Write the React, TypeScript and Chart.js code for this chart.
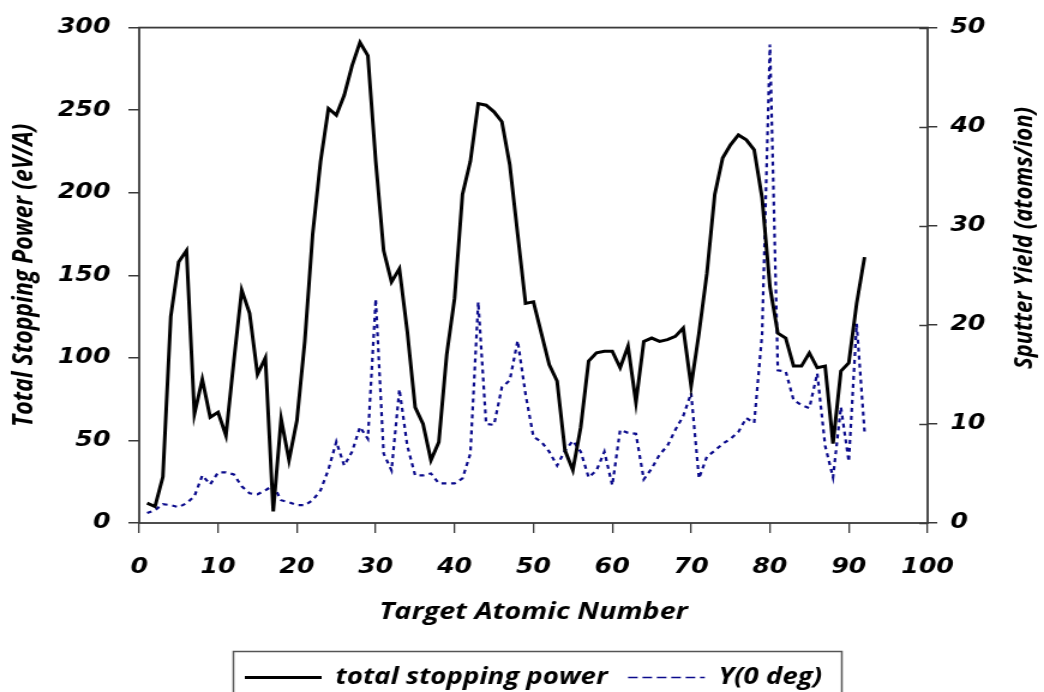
import React, { useEffect, useRef } from "react";
import { Chart, registerables } from "chart.js";

Chart.register(...registerables);

// Target atomic numbers (x)
const atomicNumbers = [
  1, 2, 3, 4, 5, 6, 7, 8, 9, 10, 11, 12, 13, 14, 15, 16, 17, 18, 19, 20,
  21, 22, 23, 24, 25, 26, 27, 28, 29, 30, 31, 32, 33, 34, 35, 36, 37, 38, 39, 40,
  41, 42, 43, 44, 45, 46, 47, 48, 49, 50, 51, 52, 53, 54, 55, 56, 57, 58, 59, 60,
  61, 62, 63, 64, 65, 66, 67, 68, 69, 70, 71, 72, 73, 74, 75, 76, 77, 78, 79, 80,
  81, 82, 83, 84, 85, 86, 87, 88, 89, 90, 91, 92,
];

// Total stopping power (eV/A), left axis
const stoppingPower = [
  12, 10, 28, 125, 158, 165, 66, 87, 64, 67, 53, 98, 141, 127, 90, 100, 7, 63, 38, 62,
  110, 175, 219, 251, 247, 259, 277, 291, 283, 219, 165, 146, 154, 116, 70, 60, 38, 49, 102, 136,
  199, 219, 254, 253, 249, 243, 217, 175, 133, 134, 115, 96, 86, 44, 32, 58, 98, 103, 104, 104,
  94, 107, 73, 110, 112, 110, 111, 113, 118, 83, 115, 151, 199, 221, 229, 235, 232, 226, 197, 143,
  115, 112, 95, 95, 103, 94, 95, 48, 92, 97, 133, 161,
];

// Sputter yield Y(0 deg) (atoms/ion), right axis
const sputterYield = [
  1.0, 1.3, 1.9, 1.8, 1.6, 2.0, 2.7, 4.8, 3.9, 5.1, 5.1, 4.9, 3.7, 3.0, 2.9, 3.3, 3.8, 2.3, 2.1, 1.8,
  1.8, 2.3, 3.3, 5.4, 8.2, 5.8, 7.2, 9.7, 8.5, 22.6, 7.0, 5.3, 13.5, 7.8, 4.8, 4.8, 5.0, 4.0, 4.0, 4.0,
  4.5, 7.0, 22.3, 10.0, 9.9, 13.7, 14.4, 18.4, 13.0, 8.7, 8.2, 7.2, 5.8, 7.3, 8.3, 7.2, 4.6, 5.3, 7.2, 3.8,
  9.4, 9.1, 9.0, 4.4, 5.5, 6.9, 7.8, 9.4, 10.8, 13.1, 4.5, 6.7, 7.3, 8.0, 8.5, 9.2, 10.6, 10.1, 19.0, 48.3,
  15.4, 15.3, 12.4, 11.9, 11.6, 15.1, 7.8, 4.6, 11.7, 6.2, 20.1, 9.2,
];

const xTickLabels = ["0", "10", "20", "30", "40", "50", "60", "70", "80", "90", "100"];
const leftTickLabels = ["0", "50", "100", "150", "200", "250", "300"];
const rightTickLabels = ["0", "10", "20", "30", "40", "50"];

const seriesNames = ["total stopping power", "Y(0 deg)"];
const xTitle = "Target Atomic Number";
const leftTitle = "Total Stopping Power (eV/A)";
const rightTitle = "Sputter Yield (atoms/ion)";

// The original figure is horizontally stretched; the canvas is drawn narrower and scaled in x.
const STRETCH = 1.2;
const CANVAS_W = 870;
const CANVAS_H = 699;

const TICK_FONT = { family: "DejaVu Sans", size: 21, weight: "bold" as const, style: "italic" as const };
const TITLE_FONT_FAMILY = "'Open Sans', 'DejaVu Sans', sans-serif";
const TITLE_FONT = { family: TITLE_FONT_FAMILY, size: 22, weight: "bold" as const, style: "italic" as const };
const FRAME_COLOR = "#3a3a3a";
const BLUE = "#0a0a8c";

const decorPlugin = {
  id: "decor",
  afterDraw(chart: any) {
    const { ctx, chartArea: a } = chart;
    ctx.save();
    // plot frame
    ctx.strokeStyle = FRAME_COLOR;
    ctx.lineWidth = 1.8;
    ctx.strokeRect(a.left, a.top, a.right - a.left, a.bottom - a.top);
    // inward part of right-axis ticks (ticks cross the axis)
    const y1 = chart.scales.y1;
    ctx.lineWidth = 1.5;
    y1.ticks.forEach((t: any) => {
      const py = Math.round(y1.getPixelForValue(t.value)) + 0.5;
      ctx.beginPath();
      ctx.moveTo(a.right - 7, py);
      ctx.lineTo(a.right, py);
      ctx.stroke();
    });
    // right axis title, reading bottom-to-top
    ctx.save();
    ctx.translate(1025 / STRETCH, 238);
    ctx.rotate(-Math.PI / 2);
    ctx.font = `italic bold 22px ${TITLE_FONT_FAMILY}`;
    ctx.fillStyle = "#000";
    ctx.textAlign = "center";
    ctx.textBaseline = "middle";
    ctx.fillText(rightTitle, 0, 0);
    ctx.restore();
    // legend border
    const lg = chart.legend;
    if (lg && lg.legendHitBoxes && lg.legendHitBoxes.length) {
      const hb = lg.legendHitBoxes;
      const l = hb[0].left - 10;
      const last = hb[hb.length - 1];
      const r = last.left + last.width + 16;
      ctx.strokeStyle = "#555";
      ctx.lineWidth = 1.5;
      ctx.strokeRect(Math.round(l) + 0.5, Math.round(lg.top + 2) + 0.5, Math.round(r - l), 80);
    }
    ctx.restore();
  },
};

export default function App() {
  const canvasRef = useRef<HTMLCanvasElement | null>(null);

  useEffect(() => {
    const canvas = canvasRef.current;
    if (!canvas) return;
    const chart = new Chart(canvas, {
      type: "line",
      data: {
        datasets: [
          {
            label: seriesNames[0],
            data: atomicNumbers.map((z, i) => ({ x: z, y: stoppingPower[i] })),
            borderColor: "#000000",
            backgroundColor: "#000000",
            borderWidth: 3,
            pointRadius: 0,
            tension: 0,
            yAxisID: "y",
          },
          {
            label: seriesNames[1],
            data: atomicNumbers.map((z, i) => ({ x: z, y: sputterYield[i] })),
            borderColor: BLUE,
            backgroundColor: BLUE,
            borderWidth: 2.2,
            borderDash: [4, 4],
            pointRadius: 0,
            tension: 0,
            yAxisID: "y1",
          },
        ],
      },
      options: {
        animation: false,
        responsive: false,
        maintainAspectRatio: false,
        layout: { padding: { top: 14, left: 0, right: 0, bottom: 0 } },
        plugins: {
          tooltip: { enabled: false },
          legend: {
            position: "bottom",
            fullSize: false,
            labels: {
              color: "#000",
              font: { family: TITLE_FONT_FAMILY, size: 23, weight: "bold", style: "italic" },
              boxWidth: 64,
              boxHeight: 0,
              padding: 17,
              generateLabels: (ch: any) => {
                const items = Chart.defaults.plugins.legend.labels.generateLabels(ch);
                items.forEach((it: any, i: number) => {
                  if (i === 1) {
                    it.lineDash = [4, 8];
                    it.lineWidth = 1.6;
                  } else {
                    it.lineWidth = 3;
                  }
                });
                return items;
              },
            },
          },
        },
        scales: {
          x: {
            type: "linear",
            position: "bottom",
            min: 0,
            max: 100,
            afterFit: (s: any) => { s.height = 126; },
            afterBuildTicks: (s: any) => {
              s.ticks = xTickLabels.map((t) => ({ value: Number(t) }));
            },
            ticks: {
              autoSkip: false,
              maxRotation: 0,
              color: "#000",
              font: TICK_FONT,
              padding: 22,
              callback: (_v: any, i: number) => xTickLabels[i],
            },
            grid: { drawOnChartArea: false, drawTicks: true, tickLength: 10, color: FRAME_COLOR, lineWidth: 1.3 },
            border: { display: false },
            title: { display: true, text: xTitle, color: "#000", font: { ...TITLE_FONT, size: 24 }, padding: { top: 0, bottom: 22 } },
          },
          y: {
            type: "linear",
            position: "left",
            min: 0,
            max: 300,
            afterFit: (s: any) => { s.width = 116; },
            afterBuildTicks: (s: any) => {
              s.ticks = leftTickLabels.map((t) => ({ value: Number(t) }));
            },
            ticks: {
              color: "#000",
              font: TICK_FONT,
              padding: 15,
              callback: (_v: any, i: number) => leftTickLabels[i],
            },
            grid: { drawOnChartArea: false, drawTicks: true, tickLength: 9, color: FRAME_COLOR, lineWidth: 1.5 },
            border: { display: false },
            title: { display: true, text: leftTitle, color: "#000", font: { ...TITLE_FONT, size: 23 }, padding: { top: 7, bottom: 0 } },
          },
          y1: {
            type: "linear",
            position: "right",
            min: 0,
            max: 50,
            afterFit: (s: any) => { s.width = 97; },
            afterBuildTicks: (s: any) => {
              s.ticks = rightTickLabels.map((t) => ({ value: Number(t) }));
            },
            ticks: {
              color: "#000",
              font: TICK_FONT,
              padding: 11,
              callback: (_v: any, i: number) => rightTickLabels[i],
            },
            grid: { drawOnChartArea: false, drawTicks: true, tickLength: 8, color: FRAME_COLOR, lineWidth: 1.5 },
            border: { display: false },
            title: { display: false },
          },
        },
      },
      plugins: [decorPlugin],
    } as any);
    return () => chart.destroy();
  }, []);

  return (
    <div
      style={{
        position: "fixed",
        left: 0,
        top: 0,
        width: 1044,
        height: 692,
        overflow: "hidden",
        background: "#fff",
      }}
    >
      <canvas
        ref={canvasRef}
        width={CANVAS_W}
        height={CANVAS_H}
        style={{
          display: "block",
          width: CANVAS_W,
          height: CANVAS_H,
          transform: `scaleX(${STRETCH})`,
          transformOrigin: "0 0",
        }}
      />
    </div>
  );
}
